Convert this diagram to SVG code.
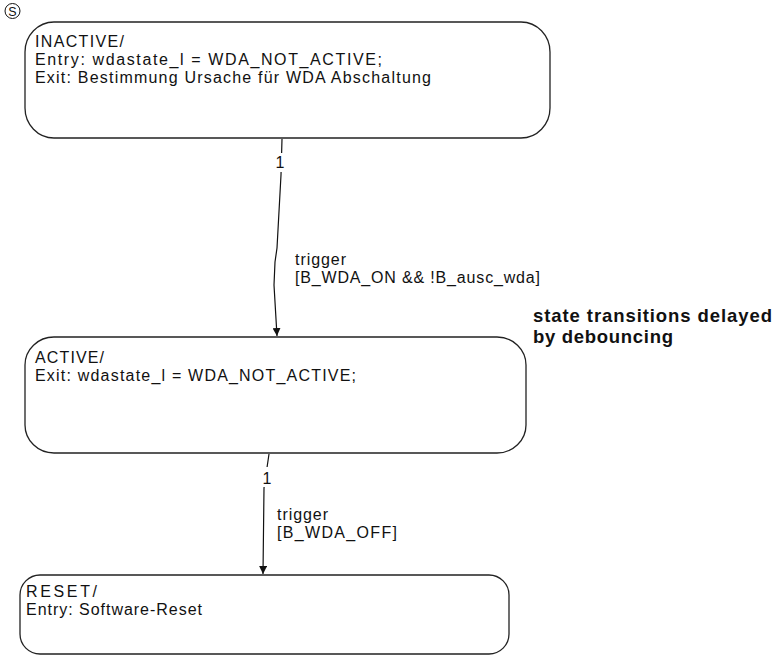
<svg xmlns="http://www.w3.org/2000/svg" width="778" height="656" viewBox="0 0 778 656">
<defs>
<marker id="arr" viewBox="0 0 8 8" refX="8" refY="4" markerWidth="8" markerHeight="8" markerUnits="userSpaceOnUse" orient="auto">
<path d="M0,0 L8,4 L0,8 z" fill="#111"/>
</marker>
<style>
.box{fill:#fff;stroke:#222;stroke-width:1.3}
.t{font-family:"Liberation Sans",Arial,sans-serif;font-size:16px;fill:#111}
.b{font-family:"Liberation Sans",Arial,sans-serif;font-size:18.5px;font-weight:bold;fill:#111}
.c{fill:none;stroke:#111;stroke-width:1.2}
</style>
</defs>
<rect width="778" height="656" fill="#fff"/>
<g id="start">
<circle cx="12.5" cy="11" r="7.5" fill="none" stroke="#111" stroke-width="1"/>
<text x="12.5" y="15.5" text-anchor="middle" style="font-family:'Liberation Sans',Arial,sans-serif;font-size:12.5px;fill:#111">S</text>
</g>
<g id="inactive">
<rect class="box" x="25" y="22" width="525" height="116" rx="29" ry="30"/>
<text class="t" x="35" y="47" textLength="89">INACTIVE/</text>
<text class="t" x="35" y="65" textLength="347">Entry: wdastate_l = WDA_NOT_ACTIVE;</text>
<text class="t" x="35" y="83" textLength="396">Exit: Bestimmung Ursache für WDA Abschaltung</text>
</g>
<g id="active">
<rect class="box" x="25" y="337" width="501" height="116" rx="29" ry="28"/>
<text class="t" x="35" y="363" textLength="69">ACTIVE/</text>
<text class="t" x="35" y="381" textLength="321">Exit: wdastate_l = WDA_NOT_ACTIVE;</text>
</g>
<g id="reset">
<rect class="box" x="20" y="575" width="489" height="79" rx="20" ry="20"/>
<text class="t" x="26" y="597" textLength="71">RESET/</text>
<text class="t" x="26" y="615" textLength="176">Entry: Software-Reset</text>
</g>
<g id="note">
<text class="b" x="533" y="322" textLength="239">state transitions delayed</text>
<text class="b" x="533" y="343" textLength="140">by debouncing</text>
</g>
<g id="connectors">
<path class="c" d="M282,139 L281,175 L277,248 L275,262 L274,285 L277,336" marker-end="url(#arr)"/>
<rect x="274" y="153" width="12" height="19" fill="#fff"/>
<text class="t" x="280" y="168" text-anchor="middle">1</text>
<text class="t" x="295" y="265" textLength="51">trigger</text>
<text class="t" x="295" y="283" textLength="245">[B_WDA_ON &amp;&amp; !B_ausc_wda]</text>
<path class="c" d="M269,454 L264,488 L263,574" marker-end="url(#arr)"/>
<rect x="260" y="467" width="14" height="20" fill="#fff"/>
<text class="t" x="267" y="484" text-anchor="middle">1</text>
<text class="t" x="277" y="520" textLength="51">trigger</text>
<text class="t" x="277" y="538" textLength="120">[B_WDA_OFF]</text>
</g>
</svg>
